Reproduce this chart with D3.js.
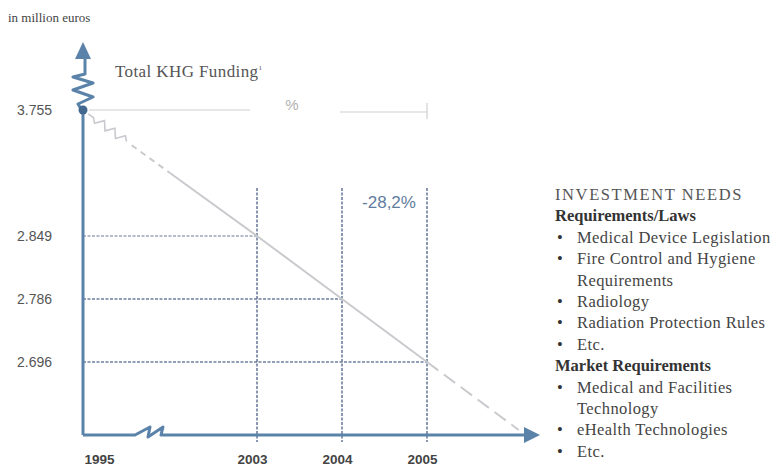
<!DOCTYPE html>
<html>
<head>
<meta charset="utf-8">
<script src="https://cdn.jsdelivr.net/npm/d3@7"></script>
<style>
  body { margin: 0; background: #fff; }
  svg { display: block; }
</style>
</head>
<body>
<div id="chart"></div>
<script>
// values
const years = [1995, 2003, 2004, 2005]
const funding = [3755, 2849, 2786, 2696]
const fundingLabels = ['3.755', '2.849', '2.786', '2.696']
const changeLabel = '-28,2%'
const unitLabel = 'in million euros'
const seriesLabel = 'Total KHG Funding'

const needsTitle = 'INVESTMENT NEEDS'
const lawsTitle = 'Requirements/Laws'
const lawsItems = [
  ['Medical Device Legislation'],
  ['Fire Control and Hygiene', 'Requirements'],
  ['Radiology'],
  ['Radiation Protection Rules'],
  ['Etc.'],
]
const marketTitle = 'Market Requirements'
const marketItems = [
  ['Medical and Facilities', 'Technology'],
  ['eHealth Technologies'],
  ['Etc.'],
]

const width = 776
const height = 467

// schematic axes: both have a break between the first and second value
const axisX = 83
const axisY = 435
const gapX = 174
const stepX = 85
const topY = 110
const gapY = 126
const stepY = 63

const axisColor = '#5b83aa'
const guideColor = '#6f7e9e'
const trendColor = '#c9cace'
const serif = 'Liberation Serif, serif'
const sans = 'Arial, Liberation Sans, sans-serif'

const x = d3.scaleLinear()
  .domain(years)
  .range(years.map((d, i) => i === 0 ? axisX : axisX + gapX + (i - 1) * stepX))
const y = d3.scaleLinear()
  .domain(funding)
  .range(funding.map((d, i) => i === 0 ? topY : topY + gapY + (i - 1) * stepY))

const svg = d3.select('#chart').append('svg')
  .attr('width', width)
  .attr('height', height)

svg.append('rect')
  .attr('width', width)
  .attr('height', height)
  .attr('fill', 'white')

svg.append('text')
  .attr('x', 8)
  .attr('y', 22)
  .attr('font-family', serif)
  .attr('font-size', 13)
  .attr('fill', '#444')
  .text(unitLabel)

const title = svg.append('text')
  .attr('x', 115)
  .attr('y', 77)
  .attr('font-family', serif)
  .attr('font-size', 17)
  .attr('letter-spacing', 0.4)
  .attr('fill', '#555')
  .text(seriesLabel)
title.append('tspan')
  .attr('font-size', 7)
  .attr('dy', -7)
  .text('1')

// dimension line with % at the top
const dimY = y(funding[0])
const lastX = x(years[years.length - 1])
svg.append('line')
  .attr('x1', axisX + 6).attr('x2', 250)
  .attr('y1', dimY).attr('y2', dimY)
  .attr('stroke', '#cfcfcf').attr('stroke-width', 1.2)
svg.append('line')
  .attr('x1', 340).attr('x2', lastX)
  .attr('y1', dimY + 2).attr('y2', dimY + 2)
  .attr('stroke', '#cfcfcf').attr('stroke-width', 1.2)
svg.append('line')
  .attr('x1', lastX).attr('x2', lastX)
  .attr('y1', dimY - 7).attr('y2', dimY + 9)
  .attr('stroke', '#cfcfcf').attr('stroke-width', 1.2)
svg.append('text')
  .attr('x', 292)
  .attr('y', dimY)
  .attr('text-anchor', 'middle')
  .attr('font-family', sans)
  .attr('font-size', 15)
  .attr('fill', '#b0b0b0')
  .text('%')

// vertical guides for the later years
const guides = svg.append('g')
years.slice(1).forEach(yr => {
  guides.append('line')
    .attr('x1', x(yr)).attr('x2', x(yr))
    .attr('y1', 188).attr('y2', axisY + 7)
    .attr('stroke', guideColor)
    .attr('stroke-width', 1.6)
    .attr('stroke-dasharray', '3,1.5')
})

// horizontal guides from the axis to each later point
funding.slice(1).forEach((v, i) => {
  guides.append('line')
    .attr('x1', axisX).attr('x2', x(years[i + 1]))
    .attr('y1', y(v)).attr('y2', y(v))
    .attr('stroke', guideColor)
    .attr('stroke-width', 1.6)
    .attr('stroke-opacity', i === 0 ? 0.7 : 1)
    .attr('stroke-dasharray', '3,1.5')
})

svg.append('text')
  .attr('x', 389)
  .attr('y', 208)
  .attr('text-anchor', 'middle')
  .attr('font-family', sans)
  .attr('font-size', 17)
  .attr('fill', '#5f7c9e')
  .text(changeLabel)

// trend line through the points
const pts = years.map((yr, i) => [x(yr), y(funding[i])])
const p0 = pts[0]
const p1 = pts[1]
const along = t => [p0[0] + (p1[0] - p0[0]) * t, p0[1] + (p1[1] - p0[1]) * t]
const dx = p1[0] - p0[0]
const dy = p1[1] - p0[1]
const len = Math.hypot(dx, dy)
const nx = -dy / len
const ny = dx / len
const trend = svg.append('g')

// squiggle break near the start
const squig = [along(0.03), along(0.06)]
const zig = [0.08, 0.11, 0.14, 0.17, 0.2, 0.23]
zig.forEach((t, i) => {
  const p = along(t)
  const s = i % 2 === 0 ? 4 : -4
  squig.push([p[0] + nx * s, p[1] + ny * s])
})
squig.push(along(0.25))
trend.append('path')
  .attr('d', d3.line()(squig))
  .attr('fill', 'none')
  .attr('stroke', trendColor)
  .attr('stroke-width', 1.6)

trend.append('path')
  .attr('d', d3.line()([along(0.28), along(0.5)]))
  .attr('stroke', trendColor)
  .attr('stroke-width', 2)
  .attr('stroke-dasharray', '6,5')

trend.append('path')
  .attr('d', d3.line()([along(0.5)].concat(pts.slice(1))))
  .attr('fill', 'none')
  .attr('stroke', trendColor)
  .attr('stroke-width', 2)

// dashed extension past the last year
const pa = pts[pts.length - 2]
const pb = pts[pts.length - 1]
const slope = (pb[1] - pa[1]) / (pb[0] - pa[0])
const endY = axisY - 5
const endX = pb[0] + (endY - pb[1]) / slope
trend.append('path')
  .attr('d', d3.line()([pb, [endX, endY]]))
  .attr('stroke', trendColor)
  .attr('stroke-width', 2)
  .attr('stroke-dasharray', '14,7')

// axes drawn by hand with break marks
const axes = svg.append('g')
  .attr('fill', 'none')
  .attr('stroke', axisColor)
  .attr('stroke-width', 3)
  .attr('stroke-linejoin', 'round')

axes.append('path')
  .attr('d', `M${axisX},${axisY} V${topY + 2} L${axisX - 5},${topY - 6} L${axisX + 10},${topY - 13} L${axisX - 10},${topY - 20} L${axisX + 10},${topY - 27} L${axisX - 10},${topY - 33} L${axisX + 2},${topY - 36} V58`)
axes.append('path')
  .attr('d', `M${axisX},${axisY} H${axisX + 52} L${axisX + 67},${axisY - 8} L${axisX + 65},${axisY + 2} L${axisX + 80},${axisY - 8} L${axisX + 78},${axisY} H${528}`)

svg.append('path')
  .attr('d', `M${axisX},42 L${axisX + 8},59 L${axisX - 8},59 Z`)
  .attr('fill', axisColor)
svg.append('path')
  .attr('d', `M540,${axisY} L524,${axisY - 8} L524,${axisY + 8} Z`)
  .attr('fill', axisColor)

svg.append('circle')
  .attr('cx', x(years[0]))
  .attr('cy', y(funding[0]))
  .attr('r', 4.5)
  .attr('fill', '#43688f')

// tick labels through d3 axes
const yAxis = svg.append('g')
  .attr('transform', `translate(${axisX},0)`)
  .call(d3.axisLeft(y)
    .tickValues(funding)
    .tickFormat((d, i) => fundingLabels[i])
    .tickSize(0)
    .tickPadding(31))
yAxis.select('.domain').remove()
yAxis.selectAll('text')
  .attr('font-family', sans)
  .attr('font-size', 14)
  .attr('fill', '#555')

const xAxis = svg.append('g')
  .attr('transform', `translate(0,${axisY})`)
  .call(d3.axisBottom(x)
    .tickValues(years)
    .tickFormat(d3.format('d'))
    .tickSize(0)
    .tickPadding(19))
xAxis.select('.domain').remove()
xAxis.selectAll('text')
  .attr('font-family', sans)
  .attr('font-size', 13.5)
  .attr('font-weight', 'bold')
  .attr('fill', '#444')
  .attr('text-anchor', (d, i) => i === 0 ? 'start' : 'middle')
  .attr('dx', (d, i) => i === 0 ? 1 : -5)

// investment needs text block
const block = svg.append('g')
  .attr('font-family', serif)
  .attr('font-size', 16.5)
  .attr('letter-spacing', 0.4)
  .attr('fill', '#444')
const lineH = 21.4
let ty = 200
block.append('text').attr('x', 555).attr('y', ty)
  .attr('fill', '#555').attr('letter-spacing', 1.6).text(needsTitle)
ty += lineH
function group(head, items) {
  block.append('text').attr('x', 555).attr('y', ty)
    .attr('font-weight', 'bold').attr('fill', '#333').attr('letter-spacing', 0).text(head)
  ty += lineH
  items.forEach(lines => {
    block.append('text').attr('x', 557).attr('y', ty).attr('fill', '#333').text('\u2022')
    lines.forEach(l => {
      block.append('text').attr('x', 577).attr('y', ty).text(l)
      ty += lineH
    })
  })
}
group(lawsTitle, lawsItems)
group(marketTitle, marketItems)
</script>
</body>
</html>
